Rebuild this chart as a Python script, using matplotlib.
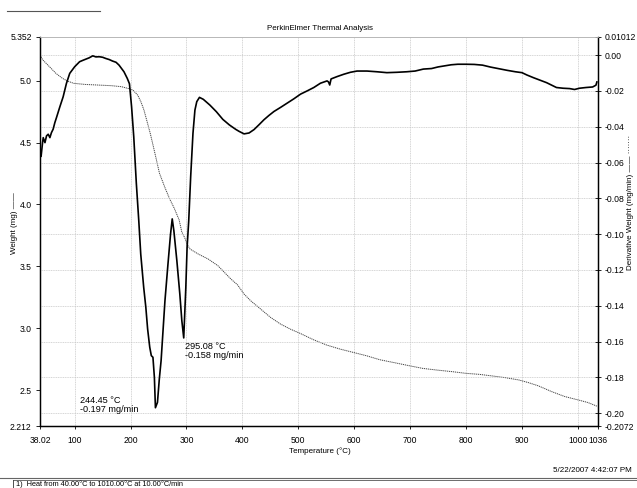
import matplotlib
matplotlib.use("Agg")
import matplotlib.pyplot as plt

plt.rcParams['font.family'] = ['Liberation Sans', 'DejaVu Sans']

# ---- data ----
deriv_temp = [40, 42.6, 43.8, 46.9, 49.7, 52.7, 55.7, 58.5, 61.5, 64.5, 67.4, 73.4, 79.4, 85.3,
              91.2, 100, 108.8, 114, 120.6, 126, 132.4, 138, 144, 150, 155.9, 162, 167.6, 174,
              179.4, 188.2, 194.1, 198, 201.8, 205.7, 210.3, 214.7, 218.2, 223.5, 227.3,
              230.5, 234.3, 237.1, 240, 242.6, 244.45, 248.1, 251.4, 254.6, 258.1, 261.5,
              266.9, 271.5, 274.5, 277.4, 282.8, 288.1, 291.7, 295.08, 296.4, 298.8, 301.1,
              304, 307.5, 311.6, 315.1, 318.4, 323.2, 330.1, 341.8, 353.4, 365, 376.7,
              388.2, 394.1, 403, 411.9, 420.8, 429.7, 438.6, 447.5, 456.4, 468.3, 480.2,
              492.1, 504, 515.8, 527.7, 539.6, 551.5, 554, 556.2, 558.6, 569.3, 581.2,
              593.1, 605, 622.8, 640.6, 658.4, 676.2, 694, 708.9, 723.7, 738.3, 750, 761.8,
              773.5, 785.3, 800, 814.7, 829.4, 844.1, 858.8, 873.5, 888.2, 900, 908.8,
              920.5, 932.3, 944.1, 955.8, 961.7, 973.5, 985.2, 994, 1002.9, 1014.6, 1026.4,
              1032.3, 1034]
deriv_val = [-0.0565, -0.0489, -0.0461, -0.0489, -0.0451, -0.0442, -0.0461, -0.0433, -0.0414,
             -0.0378, -0.0350, -0.0290, -0.0233, -0.0158, -0.0102, -0.0065, -0.0037, -0.0030,
             -0.0022, -0.0015, -0.0004, -0.0010, -0.0009, -0.0012, -0.0019, -0.0025, -0.0033,
             -0.0040, -0.0056, -0.0093, -0.0130, -0.0160, -0.0288, -0.0456, -0.0716, -0.0926,
             -0.1112, -0.1298, -0.1409, -0.1530, -0.1632, -0.1679, -0.1688, -0.1800, -0.1970,
             -0.1940, -0.1810, -0.1707, -0.1540, -0.1372, -0.1167, -0.1000, -0.0915, -0.0980,
             -0.1149, -0.1335, -0.1484, -0.1580, -0.1480, -0.1300, -0.1074, -0.0926, -0.0679,
             -0.0437, -0.0307, -0.0260, -0.0236, -0.0247, -0.0279, -0.0316, -0.0359, -0.0390,
             -0.0415, -0.0426, -0.0440, -0.0435, -0.0416, -0.0389, -0.0361, -0.0337, -0.0315,
             -0.0292, -0.0268, -0.0244, -0.0218, -0.0200, -0.0181, -0.0157, -0.0144, -0.0150,
             -0.0167, -0.0133, -0.0120, -0.0107, -0.0096, -0.0089, -0.0089, -0.0093, -0.0098,
             -0.0096, -0.0093, -0.0089, -0.0078, -0.0075, -0.0066, -0.0060, -0.0054, -0.0051,
             -0.0051, -0.0052, -0.0056, -0.0067, -0.0076, -0.0085, -0.0093, -0.0098, -0.0111,
             -0.0126, -0.0140, -0.0154, -0.0172, -0.0181, -0.0185, -0.0187, -0.0192, -0.0185,
             -0.0181, -0.0178, -0.0168, -0.0150]

weight_temp = [38.02, 43.2, 55, 66.6, 78.3, 87.3, 98.4, 119, 142.5, 166, 183.6, 195.4, 204.1,
               212.7, 218.4, 224, 229.6, 235.2, 240.8, 246.3, 251.7, 260.8, 269.4, 278.2,
               286.9, 291.5, 297, 301, 306.5, 321.1, 338.7, 356.2, 367.8, 379.5, 391.2, 403,
               414.8, 432.6, 450.3, 468.1, 485.8, 503.6, 527.3, 551, 574.6, 598.3, 622, 645.7,
               675.3, 699, 722.6, 747, 776.5, 800, 823.5, 847, 870.6, 894, 911.7, 929.4,
               952.9, 976.4, 1000, 1017.6, 1035.2]
weight_val = [5.206, 5.166, 5.112, 5.058, 5.018, 4.996, 4.978, 4.969, 4.964, 4.959, 4.951,
              4.937, 4.924, 4.883, 4.830, 4.762, 4.668, 4.574, 4.467, 4.359, 4.252, 4.144,
              4.050, 3.969, 3.875, 3.780, 3.730, 3.680, 3.640, 3.600, 3.560, 3.506, 3.452,
              3.398, 3.352, 3.277, 3.223, 3.156, 3.089, 3.035, 2.994, 2.959, 2.908, 2.865,
              2.833, 2.806, 2.779, 2.747, 2.720, 2.698, 2.677, 2.664, 2.650, 2.637, 2.629,
              2.616, 2.602, 2.584, 2.562, 2.536, 2.490, 2.450, 2.423, 2.402, 2.370]

x_ticks = [38.02, 100, 200, 300, 400, 500, 600, 700, 800, 900, 1000, 1036]
x_tick_labels = ['38.02', '100', '200', '300', '400', '500', '600', '700', '800', '900', '1000', '1036']
left_ticks = [2.212, 2.5, 3.0, 3.5, 4.0, 4.5, 5.0, 5.352]
left_tick_labels = ['2.212', '2.5', '3.0', '3.5', '4.0', '4.5', '5.0', '5.352']
right_ticks = [-0.2072, -0.20, -0.18, -0.16, -0.14, -0.12, -0.10, -0.08, -0.06, -0.04, -0.02, 0.00, 0.01012]
right_tick_labels = ['-0.2072', '-0.20', '-0.18', '-0.16', '-0.14', '-0.12', '-0.10', '-0.08',
                     '-0.06', '-0.04', '-0.02', '0.00', '0.01012']
grid_x = [100, 200, 300, 400, 500, 600, 700, 800, 900, 1000]
grid_y = [-0.20, -0.18, -0.16, -0.14, -0.12, -0.10, -0.08, -0.06, -0.04, -0.02, 0.00]

peak1 = (244.45, -0.197, '244.45 °C\n-0.197 mg/min')
peak2 = (295.08, -0.158, '295.08 °C\n-0.158 mg/min')

# ---- figure ----
W, H = 637, 488
fig = plt.figure(figsize=(W / 100, H / 100), dpi=100)
fig.patch.set_facecolor('white')
L, R, T, B = 40, 598, 37, 426
ax = fig.add_axes([L / W, 1 - B / H, (R - L) / W, (B - T) / H])
ax2 = ax.twinx()

ax.set_xlim(38.02, 1036)
ax.set_ylim(2.212, 5.352)
ax2.set_ylim(-0.2072, 0.01012)

gcol = '#c4c4c4'
for gx in grid_x:
    ax.axvline(gx, color=gcol, lw=0.5, ls=(0, (1.5, 1)), zorder=0)
for gy in grid_y:
    ax2.axhline(gy, color=gcol, lw=0.5, ls=(0, (1.5, 1)), zorder=0)

ax.plot(weight_temp, weight_val, color='#444444', lw=0.7, ls=(0, (1.2, 0.8)), zorder=2)
ax2.plot(deriv_temp, deriv_val, color='black', lw=1.2, zorder=3)

tick_fs = 6.2
ax.set_xticks(x_ticks)
ax.set_xticklabels(x_tick_labels, fontsize=tick_fs)
ax.set_yticks(left_ticks)
ax.set_yticklabels(left_tick_labels, fontsize=tick_fs)
ax2.set_yticks(right_ticks)
ax2.set_yticklabels(right_tick_labels, fontsize=tick_fs)
ax.tick_params(axis='x', direction='out', length=2, width=0.6, pad=5)
ax.tick_params(axis='y', direction='out', length=3, width=0.6, pad=3)
ax2.tick_params(axis='y', direction='inout', length=5, width=0.6, pad=2)

for a in (ax, ax2):
    a.spines['top'].set_color('#b8b8b8')
    a.spines['top'].set_linewidth(0.6)
    a.spines['left'].set_linewidth(0.9)
    a.spines['right'].set_linewidth(0.9)
    a.spines['bottom'].set_linewidth(0.9)

ax2.text(peak1[0] - 135, -0.2005, peak1[2], fontsize=6.6, va='bottom', ha='left',
         linespacing=0.95)
ax2.text(peak2[0] + 1.5, -0.1605, peak2[2], fontsize=6.6, va='top', ha='left',
         linespacing=0.95)

fig.text(320 / W, 1 - 29 / H, 'PerkinElmer Thermal Analysis', fontsize=5.8, ha='center', va='center')
fig.text(320 / W, 1 - 451 / H, 'Temperature (°C)', fontsize=5.8, ha='center', va='center')
fig.text(14 / W, 1 - 223 / H, 'Weight (mg) ——', fontsize=5.8, ha='center', va='center', rotation=90)
fig.text(630 / W, 1 - 202 / H, 'Derivative Weight (mg/min) —— ·······', fontsize=5.8,
         ha='center', va='center', rotation=90)
fig.text(632 / W, 1 - 470 / H, '5/22/2007 4:42:07 PM', fontsize=5.8, ha='right', va='center')
fig.text(16 / W, 1 - 487.6 / H, '1)  Heat from 40.00°C to 1010.00°C at 10.00°C/min',
         fontsize=5.3, ha='left', va='bottom')

# decorative page lines
fig.add_artist(plt.Line2D([7 / W, 100 / W], [1 - 11 / H, 1 - 11 / H], color='#555555', lw=0.8))
fig.add_artist(plt.Line2D([0, 1], [1 - 478 / H, 1 - 478 / H], color='#666666', lw=0.8))
fig.add_artist(plt.Line2D([13 / W, 13 / W], [0, 1 - 479.5 / H], color='#333333', lw=0.6))
fig.add_artist(plt.Line2D([13 / W, 1], [1 - 479.5 / H, 1 - 479.5 / H], color='#333333', lw=0.5))

fig.savefig('out.png', dpi=100, facecolor='white')
